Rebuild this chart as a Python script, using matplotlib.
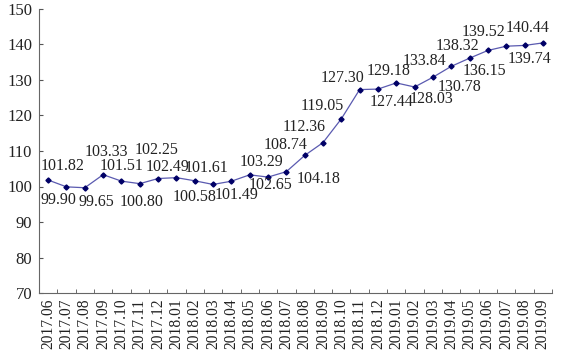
import numpy as np
import matplotlib.pyplot as plt

months = ["2017.06", "2017.07", "2017.08", "2017.09", "2017.10", "2017.11",
          "2017.12", "2018.01", "2018.02", "2018.03", "2018.04", "2018.05",
          "2018.06", "2018.07", "2018.08", "2018.09", "2018.10", "2018.11",
          "2018.12", "2019.01", "2019.02", "2019.03", "2019.04", "2019.05",
          "2019.06", "2019.07", "2019.08", "2019.09"]
values = [101.82, 99.90, 99.65, 103.33, 101.51, 100.80,
          102.25, 102.49, 101.61, 100.58, 101.49, 103.29,
          102.65, 104.18, 108.74, 112.36, 119.05, 127.30,
          127.44, 129.18, 128.03, 130.78, 133.84, 136.15,
          138.32, 139.52, 139.74, 140.44]

# label offsets in pixels (dx right, dy up)
offsets = [(14, 14), (-8, -13), (12, -14), (3, 23), (0, 15), (2, -18),
           (-2, 29), (-9, 11), (12, 13), (-18, -13), (5, -14), (12, 13),
           (2, -8), (32, -7), (-19, 10), (-19, 16), (-19, 13), (-17, 12),
           (14, -13), (-8, 12), (17, -12), (27, -10), (-27, 5), (15, -13),
           (-30, 4), (-23, 14), (5, -14), (-15, 15)]

plt.rcParams['font.family'] = ['Liberation Serif', 'DejaVu Serif']

fig = plt.figure(figsize=(5.66, 3.58), dpi=100)
ax = fig.add_axes([39/566, 1 - 293/358, 513/566, 284/358])

x = np.arange(len(months))
ax.plot(x, values, color="#5a5ab0", lw=0.9, marker="D", ms=2.6,
        mfc="#000066", mec="#000066", zorder=3)

for i, v in enumerate(values):
    dx, dy = offsets[i]
    ax.annotate(f"{v:.2f}", (x[i], v), xytext=(dx, dy),
                textcoords="offset pixels", ha="center", va="center",
                fontsize=11.5, color="#222222")

ax.set_xlim(-0.5, len(months) - 0.5)
ax.set_ylim(70, 150)
ax.set_yticks(range(70, 151, 10))
ax.set_xticks(x)
ax.set_xticklabels(months, rotation=90, fontsize=11.2, color="#222222")
ax.set_xticks(np.arange(-0.5, len(months), 1), minor=True)
ax.tick_params(axis="x", which="major", length=0, pad=4)
ax.tick_params(axis="x", which="minor", length=3, direction="in", color="#555555")
ax.tick_params(axis="y", length=3, direction="in", labelsize=12, pad=5,
               color="#555555", labelcolor="#222222")

for s in ["top", "right"]:
    ax.spines[s].set_visible(False)
for s in ["left", "bottom"]:
    ax.spines[s].set_color("#666666")
    ax.spines[s].set_linewidth(0.8)

fig.savefig("out.png", dpi=100)
